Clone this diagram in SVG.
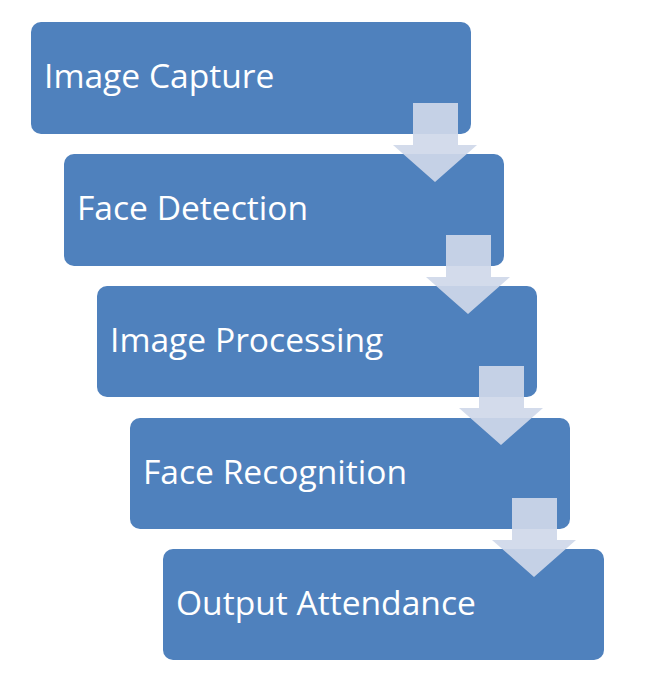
<svg xmlns="http://www.w3.org/2000/svg" width="647" height="685" viewBox="0 0 647 685">
<style>
.box{fill:#4f81bd;}
.lbl{fill:#ffffff;font-family:"Open Sans","Liberation Sans",sans-serif;font-size:33.6px;}
.arr{fill:#cfd8e9;fill-opacity:0.92;}
</style>
<defs>
<path id="arrow" d="M20,0 H65 V42 H84 L42,79 L0,42 H20 Z"/>
</defs>
<rect width="647" height="685" fill="#ffffff"/>
<g id="n1"><rect class="box" x="31" y="22" width="440" height="112" rx="10"/><text class="lbl" x="44" y="88">Image Capture</text></g>
<g id="n2"><rect class="box" x="64" y="154" width="440" height="112" rx="10"/><text class="lbl" x="77" y="220">Face Detection</text></g>
<g id="n3"><rect class="box" x="97" y="286" width="440" height="111" rx="10"/><text class="lbl" x="110" y="352">Image Processing</text></g>
<g id="n4"><rect class="box" x="130" y="418" width="440" height="111" rx="10"/><text class="lbl" x="143" y="484">Face Recognition</text></g>
<g id="n5"><rect class="box" x="163" y="549" width="441" height="111" rx="10"/><text class="lbl" x="176" y="615">Output Attendance</text></g>
<g id="connectors">
<use href="#arrow" class="arr" x="393" y="103"/>
<use href="#arrow" class="arr" x="426" y="235"/>
<use href="#arrow" class="arr" x="459" y="366"/>
<use href="#arrow" class="arr" x="492" y="498"/>
</g>
</svg>
